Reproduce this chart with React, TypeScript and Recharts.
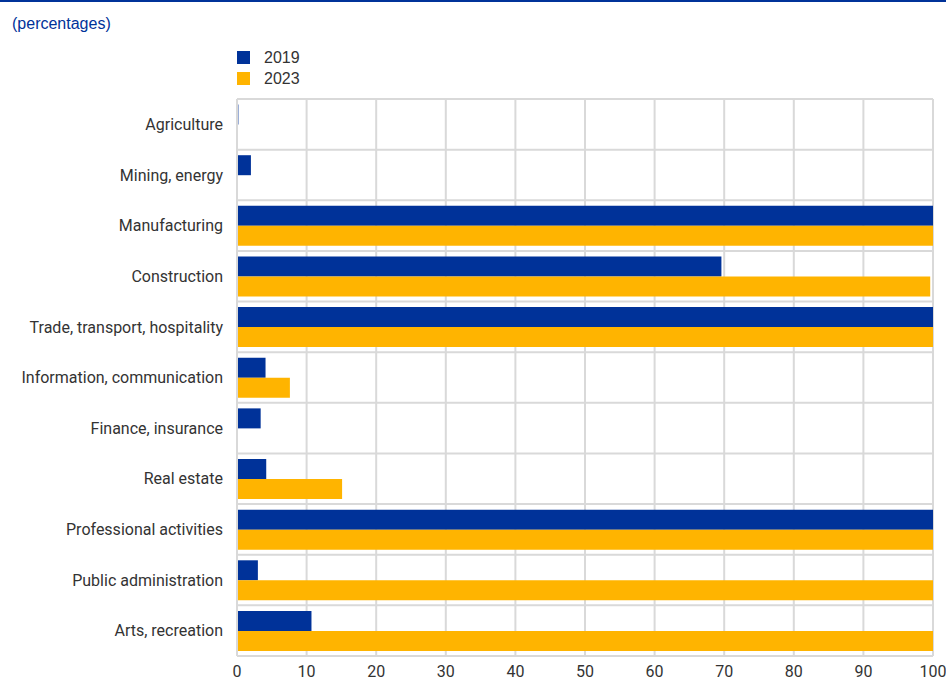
import React from "react";
import { BarChart, Bar, XAxis, YAxis, CartesianGrid } from "recharts";

const categories = [
  "Agriculture",
  "Mining, energy",
  "Manufacturing",
  "Construction",
  "Trade, transport, hospitality",
  "Information, communication",
  "Finance, insurance",
  "Real estate",
  "Professional activities",
  "Public administration",
  "Arts, recreation",
];

const values2019 = [0.2, 2.0, 100, 69.6, 100, 4.1, 3.4, 4.2, 100, 3.0, 10.7];
const values2023 = [0, 0, 100, 99.6, 100, 7.6, 0, 15.1, 100, 100, 100];

const xTicks = [0, 10, 20, 30, 40, 50, 60, 70, 80, 90, 100];

const BLUE = "#003299";
const YELLOW = "#FFB400";
const TEXT = "#333333";
const GRID = "#d9d9d9";
const FONT = "Arial, 'Liberation Sans', sans-serif";
const LABEL_FONT = "Roboto, Arial, sans-serif";

const chartData = categories.map((name, i) => ({
  name,
  y2019: values2019[i],
  y2023: values2023[i],
}));

const legendItems = [
  { label: "2019", color: BLUE },
  { label: "2023", color: YELLOW },
];

export default function App() {
  return (
    <div style={{ position: "absolute", left: 0, top: 0, width: 946, height: 680, background: "#fff" }}>
      <div style={{ position: "absolute", left: 0, top: 0, width: 946, height: 2, background: BLUE }} />
      <div
        style={{
          position: "absolute",
          left: 12,
          top: 15,
          fontFamily: FONT,
          fontSize: 16,
          color: BLUE,
        }}
      >
        (percentages)
      </div>
      <div style={{ position: "absolute", left: 237, top: 47, fontFamily: FONT, fontSize: 16, color: TEXT }}>
        {legendItems.map((it) => (
          <div key={it.label} style={{ display: "flex", alignItems: "center", height: 21 }}>
            <span style={{ width: 13, height: 13, background: it.color, display: "inline-block", marginRight: 14 }} />
            <span>{it.label}</span>
          </div>
        ))}
      </div>
      <BarChart
        width={946}
        height={680}
        data={chartData}
        layout="vertical"
        margin={{ top: 99, right: 13, left: 0, bottom: 0 }}
        barCategoryGap="11%"
        barGap={0}
        style={{ position: "absolute", left: 0, top: 0 }}
      >
        <CartesianGrid
          stroke={GRID}
          strokeWidth={2}
          horizontalCoordinatesGenerator={({ offset }: any) =>
            categories
              .map((_, i) => offset.top + (i * offset.height) / categories.length)
              .concat([offset.top + offset.height])
          }
        />
        <XAxis
          type="number"
          domain={[0, 100]}
          ticks={xTicks}
          axisLine={false}
          tickLine={false}
          tickSize={0}
          tickMargin={10}
          height={24}
          tick={{ fill: TEXT, fontSize: 16, fontFamily: LABEL_FONT }}
        />
        <YAxis
          type="category"
          dataKey="name"
          width={237}
          axisLine={{ stroke: GRID, strokeWidth: 2 }}
          tickLine={false}
          tickSize={0}
          tickMargin={14}
          interval={0}
          tick={{ fill: TEXT, fontSize: 16, fontFamily: LABEL_FONT }}
        />
        <Bar dataKey="y2019" name="2019" fill={BLUE} isAnimationActive={false} />
        <Bar dataKey="y2023" name="2023" fill={YELLOW} isAnimationActive={false} />
      </BarChart>
    </div>
  );
}
